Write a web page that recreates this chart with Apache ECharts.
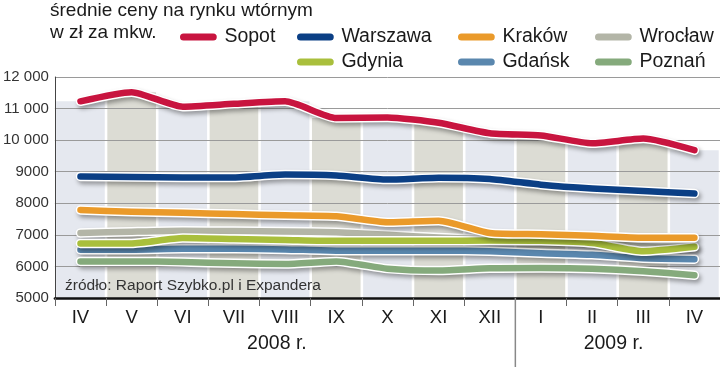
<!DOCTYPE html>
<html>
<head>
<meta charset="utf-8">
<script src="https://cdn.jsdelivr.net/npm/echarts@6/dist/echarts.min.js"></script>
<style>
html,body{margin:0;padding:0;background:#fff;}
#c{width:720px;height:367px;}
</style>
</head>
<body>
<div id="c"></div>
<script>
var months = ['IV','V','VI','VII','VIII','IX','X','XI','XII','I','II','III','IV'];
var yTicks = [5000, 6000, 7000, 8000, 9000, 10000, 11000, 12000];
var sopot    = [11230, 11520, 11060, 11150, 11230, 10700, 10720, 10550, 10220, 10150, 9900, 10050, 9680];
var warszawa = [8850, 8830, 8820, 8820, 8910, 8880, 8750, 8810, 8770, 8590, 8470, 8390, 8310];
var krakow   = [7790, 7730, 7700, 7660, 7620, 7590, 7400, 7450, 7060, 7020, 6970, 6910, 6910];
var wroclaw  = [7060, 7100, 7130, 7120, 7110, 7080, 7000, 6920, 6850, 6830, 6770, 6640, 6620];
var gdynia   = [6730, 6730, 6900, 6870, 6840, 6810, 6810, 6810, 6820, 6810, 6740, 6480, 6620];
var gdansk   = [6530, 6530, 6560, 6560, 6540, 6500, 6500, 6500, 6480, 6420, 6370, 6260, 6230];
var poznan   = [6160, 6160, 6140, 6100, 6080, 6160, 5930, 5870, 5940, 5950, 5930, 5850, 5720];
var years = ['2008 r.', '2009 r.'];

var FONT = '"Liberation Sans", Arial, sans-serif';
var chart = echarts.init(document.getElementById('c'), null, {renderer: 'canvas'});

// drawing order bottom -> top
var seriesDefs = [
  {name: 'Wrocław', data: wroclaw, color: '#b3b5a7'},
  {name: 'Gdańsk', data: gdansk, color: '#5a87ae'},
  {name: 'Poznań', data: poznan, color: '#85aa7c'},
  {name: 'Gdynia', data: gdynia, color: '#a9bf3c'},
  {name: 'Kraków', data: krakow, color: '#ea9a2a'},
  {name: 'Warszawa', data: warszawa, color: '#0b3f85'},
  {name: 'Sopot', data: sopot, color: '#c8143f'}
];

var series = [{
  type: 'bar',
  name: 'tło',
  data: sopot.map(function (v, i) {
    return {value: v, itemStyle: {color: i % 2 === 0 ? '#e5e8ef' : '#dcdcd4'}};
  }),
  barCategoryGap: '5%',
  silent: true,
  z: 1
}];
seriesDefs.forEach(function (s, k) {
  series.push({
    type: 'line', name: s.name + '_o', data: s.data, symbol: 'none', smooth: 0.2,
    silent: true, z: 10 + 2 * k,
    lineStyle: {color: '#ffffff', width: 9.5, cap: 'round', join: 'round',
      shadowColor: 'rgba(0,0,0,0.35)', shadowBlur: 4, shadowOffsetX: 2, shadowOffsetY: 3}
  });
  series.push({
    type: 'line', name: s.name, data: s.data, symbol: 'none', smooth: 0.2,
    silent: true, z: 11 + 2 * k, color: s.color,
    lineStyle: {color: s.color, width: 6.5, cap: 'round', join: 'round'}
  });
});

var legendPos = {
  'Sopot': [180, 27], 'Warszawa': [297, 27], 'Kraków': [458, 27], 'Wrocław': [595, 27],
  'Gdynia': [297, 52], 'Gdańsk': [458, 52], 'Poznań': [595, 52]
};
var legends = seriesDefs.map(function (s) {
  return {
    data: [{name: s.name, itemStyle: {color: s.color}}],
    left: legendPos[s.name][0], top: legendPos[s.name][1],
    padding: 0, selectedMode: false,
    icon: 'path://M4,0H38A4,4,0,0,1,38,8H4A4,4,0,0,1,4,0Z',
    itemWidth: 42, itemHeight: 7,
    textStyle: {fontFamily: FONT, fontSize: 19.5, color: '#1a1a1a', lineHeight: 20}
  };
});

var option = {
  animation: false,
  backgroundColor: '#fff',
  title: {
    text: 'średnie ceny na rynku wtórnym\nw zł za mkw.',
    left: 50, top: 0, padding: 0,
    textStyle: {fontFamily: FONT, fontSize: 19, fontWeight: 'normal', color: '#1a1a1a', lineHeight: 22}
  },
  legend: legends,
  grid: {left: 54, right: 0, top: 77, bottom: 69},
  xAxis: {
    type: 'category', data: months, boundaryGap: true, z: 30,
    axisLine: {lineStyle: {color: '#111', width: 2.5}},
    axisTick: {show: true, interval: 0, length: 8, lineStyle: {color: '#666', width: 1}},
    axisLabel: {fontFamily: FONT, fontSize: 18.5, color: '#1a1a1a', margin: 10, interval: 0}
  },
  yAxis: {
    type: 'value', min: yTicks[0], max: yTicks[yTicks.length - 1], interval: 1000, z: 3,
    axisLine: {show: true, lineStyle: {color: '#444', width: 1}},
    axisTick: {show: false},
    splitLine: {show: true, lineStyle: {color: '#9a9a9a', width: 1}},
    axisLabel: {
      fontFamily: FONT, fontSize: 15, color: '#333', margin: 6,
      formatter: function (v) {
        return v >= 10000 ? String(v).replace(/(\d+)(\d{3})$/, '$1 $2') : String(v);
      }
    }
  },
  series: series
};
chart.setOption(option);

// year labels, divider and source note positioned through the axis scales
var xDec = (chart.convertToPixel({xAxisIndex: 0}, 8) + chart.convertToPixel({xAxisIndex: 0}, 9)) / 2;
var yBase = chart.convertToPixel({yAxisIndex: 0}, yTicks[0]);
var x2008 = (chart.convertToPixel({xAxisIndex: 0}, 0) + chart.convertToPixel({xAxisIndex: 0}, 8)) / 2 - 6;
var x2009 = (chart.convertToPixel({xAxisIndex: 0}, 9) + chart.convertToPixel({xAxisIndex: 0}, 12)) / 2 - 2;
chart.setOption({
  graphic: [
    {type: 'line', z: 40, shape: {x1: xDec, y1: yBase, x2: xDec, y2: 367},
      style: {stroke: '#888', lineWidth: 1.5}},
    {type: 'text', left: x2008 - 32, top: yBase + 36, z: 40,
      style: {text: years[0], font: '19.5px ' + FONT, fill: '#1a1a1a'}},
    {type: 'text', left: x2009 - 32, top: yBase + 36, z: 40,
      style: {text: years[1], font: '19.5px ' + FONT, fill: '#1a1a1a'}},
    {type: 'text', left: 65, top: yBase - 20, z: 40,
      style: {text: 'źródło: Raport Szybko.pl i Expandera', font: '15.5px ' + FONT, fill: '#333'}}
  ]
});
</script>
</body>
</html>
